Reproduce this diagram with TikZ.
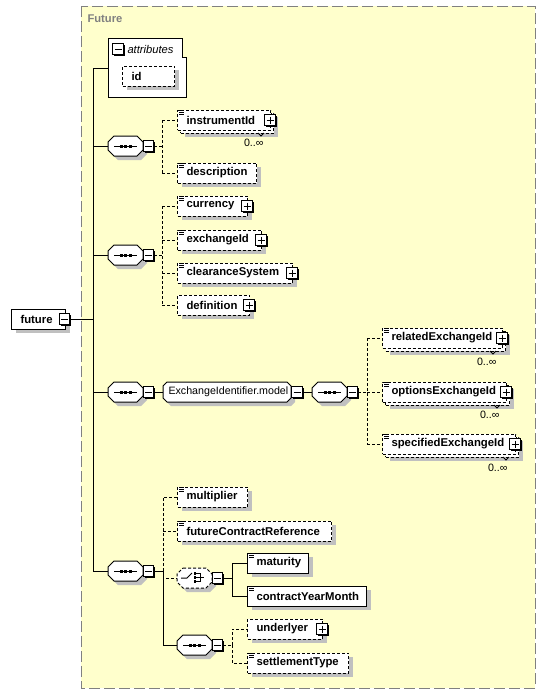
\documentclass[tikz,border=0pt]{standalone}
\usepackage{fontspec}
\setmainfont{Liberation Sans}
\usetikzlibrary{shadows}
\definecolor{bgy}{RGB}{255,255,204}
\definecolor{shc}{RGB}{192,192,192}
\definecolor{frm}{RGB}{128,128,128}
\tikzset{
  ebox/.style={rectangle, draw, fill=white, inner sep=0pt, minimum height=15pt, line width=0.75pt},
  sh/.style={drop shadow={shadow xshift=3pt, shadow yshift=-3pt, fill=shc, opacity=1}},
  dsh/.style={dash pattern=on 2.25pt off 1.5pt},
  btxt/.style={font=\fontsize{8.5}{10}\selectfont\bfseries, inner sep=0pt, anchor=west},
  rtxt/.style={font=\fontsize{8}{10}\selectfont, inner sep=0pt},
  itxt/.style={font=\fontsize{8.4}{10}\selectfont\itshape, inner sep=0pt, anchor=west},
  pmbox/.style={rectangle, draw, fill=white, inner sep=0pt, minimum size=7.9pt, line width=0.75pt}
}
% plus/minus box: name, cx, cy, 1=plus 0=minus
\newcommand\pmb[4]{%
  \fill (#2-4,#3-4) rectangle (#2+6.8,#3+6.8);
  \node[pmbox] (#1) at (#2,#3) {};
  \draw (#2-3.5,#3) -- (#2+3.5,#3);
  \ifnum#4=1 \draw (#2,#3-3.5) -- (#2,#3+3.5);\fi
}
% element box: name, x, cy, w, text, options
\newcommand\el[6]{%
  \node[ebox,#6,minimum width=#4*0.75pt,anchor=west] (#1) at (#2,#3) {};
  \node[btxt] (#1-t) at (#2+9,#3) {#5};
}
% back box of a repeated element: name, x, cy, w
\newcommand\back[4]{%
  \node[ebox,dsh,sh,minimum width=#4*0.75pt,anchor=west] (#1) at (#2+3,#3+3) {};
  \draw (#2+#4-12,#3+13) -- (#2+#4-9,#3+16) -- (#2+#4-6,#3+13);
}
% simple type icon
\newcommand\ic[2]{\draw (#1+2,#2-9.5)--(#1+7,#2-9.5) (#1+2,#2-7.5)--(#1+7,#2-7.5) (#1+2,#2-5.5)--(#1+7,#2-5.5);}
% octagon: name, x, cy, w, cut, options
\newcommand\octo[6]{%
  \fill[shc] (#2+4+#5,#3-6) -- (#2+4+#4-#5,#3-6) -- (#2+4+#4,#3-6+#5) -- (#2+4+#4,#3+14-#5) -- (#2+4+#4-#5,#3+14) -- (#2+4+#5,#3+14) -- (#2+4,#3+14-#5) -- (#2+4,#3-6+#5) -- cycle;
  \draw[fill=white,#6] (#2+#5,#3-10) -- (#2+#4-#5,#3-10) -- (#2+#4,#3-10+#5) -- (#2+#4,#3+10-#5) -- (#2+#4-#5,#3+10) -- (#2+#5,#3+10) -- (#2,#3+10-#5) -- (#2,#3-10+#5) -- cycle;
  \node[inner sep=0pt,minimum width=#4*0.75pt,minimum height=15pt,anchor=west] (#1) at (#2,#3) {};
}
% sequence compositor: name, x, cy
\newcommand\seqo[3]{%
  \octo{#1}{#2}{#3}{35}{6}{}
  \draw (#2+6,#3) -- (#2+29,#3);
  \fill (#2+11.5,#3-1.5) rectangle ++(3,3);
  \fill (#2+16,#3-1.5) rectangle ++(3,3);
  \fill (#2+20.5,#3-1.5) rectangle ++(3,3);
  \pmb{#1-m}{#2+40.5}{#3}{0}
}
\begin{document}
\begin{tikzpicture}[x=0.75pt,y=-0.75pt,line width=0.75pt]
\useasboundingbox (0,0) rectangle (546,694);
% type frame
\draw[frm, dash pattern=on 8.25pt off 3pt, fill=bgy] (81,6) rectangle (535,688);
\node[font=\fontsize{8.4}{10}\selectfont\bfseries, text=frm, inner sep=0pt, anchor=west] (ftitle) at (87,19) {Future};

% root element
\el{fut}{11}{319}{54}{future}{sh}
\pmb{fut-m}{64.5}{319}{0}

% attributes
\draw[fill=white] (108,38) -- (182,38) -- (182,57) -- (186,57) -- (186,97) -- (108,97) -- cycle;
\node[inner sep=0pt, minimum width=58.5pt, minimum height=44.25pt, anchor=north west] (attr) at (108,38) {};
\pmb{attr-m}{118}{49}{0}
\node[itxt] (attr-t) at (127,49) {attributes};
\el{id}{122}{76}{52}{id}{dsh,sh}

% sequences on the trunk
\seqo{s1}{108}{146}
\seqo{s2}{108}{255}
\seqo{s3}{108}{392}
\seqo{s4}{108}{571}

% sequence 1 children
\back{instr-b}{177}{120}{93}
\el{instr}{177}{120}{93}{instrumentId}{dsh}
\ic{177}{120}
\pmb{instr-p}{270}{120}{1}
\node[rtxt,anchor=east] (instr-o) at (264,143) {0..∞};
\el{desc}{177}{173}{79}{description}{dsh,sh}
\ic{177}{173}

% sequence 2 children
\el{curr}{177}{206}{70}{currency}{dsh,sh}
\ic{177}{206}
\pmb{curr-p}{247}{206}{1}
\el{exch}{177}{240}{84}{exchangeId}{dsh,sh}
\ic{177}{240}
\pmb{exch-p}{261}{240}{1}
\el{clear}{177}{273}{115}{clearanceSystem}{dsh,sh}
\ic{177}{273}
\pmb{clear-p}{292}{273}{1}
\el{defn}{177}{305}{72}{definition}{dsh,sh}
\pmb{defn-p}{249}{305}{1}

% group ExchangeIdentifier.model
\octo{grp}{163}{392}{128}{4}{}
\node[rtxt,anchor=west] (grp-t) at (168,392) {ExchangeIdentifier.model};
\pmb{grp-m}{297}{392}{0}
\seqo{s6}{312}{392}

\back{rel-b}{382}{338}{120}
\el{rel}{382}{338}{120}{relatedExchangeId}{dsh}
\ic{382}{338}
\pmb{rel-p}{502}{338}{1}
\node[rtxt,anchor=east] (rel-o) at (497,362) {0..∞};

\back{opt-b}{382}{392}{124}
\el{opt}{382}{392}{124}{optionsExchangeId}{dsh}
\ic{382}{392}
\pmb{opt-p}{506}{392}{1}
\node[rtxt,anchor=east] (opt-o) at (500,415) {0..∞};

\back{spec-b}{382}{444}{133}
\el{spec}{382}{444}{133}{specifiedExchangeId}{dsh}
\ic{382}{444}
\pmb{spec-p}{515}{444}{1}
\node[rtxt,anchor=east] (spec-o) at (508,468) {0..∞};

% sequence 4 children
\el{mult}{177}{497}{70}{multiplier}{dsh,sh}
\ic{177}{497}
\el{fcr}{177}{531}{154}{futureContractReference}{dsh,sh}
\ic{177}{531}

% choice
\octo{ch}{177}{578}{35}{6}{dsh}
\draw (181,578) -- (187,578) -- (192,573);
\fill (193.5,572) rectangle ++(2.5,2.5);
\fill (193.5,576) rectangle ++(2.5,2.5);
\fill (193.5,580) rectangle ++(2.5,2.5);
\draw (196,573.25) -- (200,573.25) -- (200,581.25) -- (196,581.25);
\draw (196,577.25) -- (204,577.25);
\pmb{ch-m}{217.5}{578}{0}
\el{mat}{247}{563}{61}{maturity}{sh}
\ic{247}{563}
\el{cym}{247}{596}{119}{contractYearMonth}{sh}
\ic{247}{596}

% sequence 5
\seqo{s5}{177}{645}
\el{undl}{247}{629}{75}{underlyer}{dsh,sh}
\pmb{undl-p}{322}{629}{1}
\el{settle}{247}{663}{101}{settlementType}{dsh,sh}
\ic{247}{663}

% ---- connectors ----
\draw (attr.west) -- ++(-15,0) coordinate (t0);
\draw (t0) -- (t0 |- s4.west);
\foreach \n in {s1,s2,s3,s4} \draw (t0 |- \n.west) -- (\n.west);
\draw (fut-m.east) -- (t0 |- fut-m.east);

\draw[dsh] (s1-m.east) -- (162,146) coordinate (j1);
\draw[dsh] (j1 |- instr.west) -- (j1 |- desc.west);
\draw[dsh] (j1 |- instr.west) -- (instr.west);
\draw[dsh] (j1 |- desc.west) -- (desc.west);

\draw[dsh] (s2-m.east) -- (162,255) coordinate (j2);
\draw[dsh] (j2 |- curr.west) -- (j2 |- defn.west);
\foreach \n in {curr,exch,clear,defn} \draw[dsh] (j2 |- \n.west) -- (\n.west);

\draw (s3-m.east) -- (grp.west);
\draw (grp-m.east) -- (s6.west);
\draw[dsh] (s6-m.east) -- (367,392) coordinate (j6);
\draw[dsh] (j6 |- rel.west) -- (j6 |- spec.west);
\foreach \n in {rel,opt,spec} \draw[dsh] (j6 |- \n.west) -- (\n.west);

\draw (s4-m.east) -- (163,571) coordinate (j4);
\draw[dsh] (j4) |- (mult.west);
\draw[dsh] (j4 |- fcr.west) -- (fcr.west);
\draw[dsh] (j4) |- (ch.west);
\draw (j4) |- (s5.west);

\draw (ch-m.east) -- (232,578) coordinate (jc);
\draw (jc) |- (mat.west);
\draw (jc) |- (cym.west);

\draw[dsh] (s5-m.east) -- (232,645) coordinate (j5);
\draw[dsh] (j5) |- (undl.west);
\draw[dsh] (j5) |- (settle.west);
\end{tikzpicture}
\end{document}
